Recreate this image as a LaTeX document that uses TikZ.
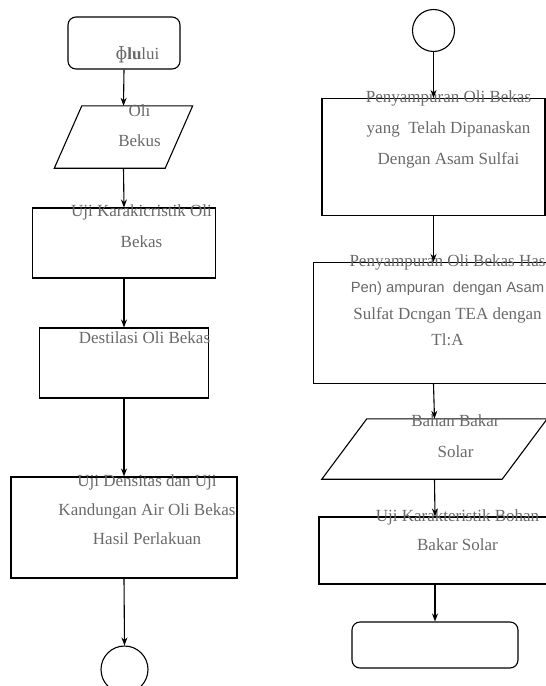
\documentclass[tikz,border=0pt]{standalone}
\usepackage{fontspec}
\setmainfont{Liberation Serif}
\setsansfont{Liberation Sans}
\newfontfamily\ipafont{DejaVu Serif}
\usetikzlibrary{arrows.meta}
\definecolor{abu}{RGB}{105,105,105}

\begin{document}
\begin{tikzpicture}[x=1bp, y=-1bp]
  %tikz%
  % Diagram alir, oli bekas
  %tikz%
    \tikzset{garis/.style={draw, line width=1.1bp, inner sep=0pt},
      jajar/.style={inner sep=0pt},
      teks/.style={text=abu, align=center, anchor=base, inner sep=0pt},
      panah/.style={-{Stealth[length=8bp, width=6bp]}, line width=1.1bp}}

    \useasboundingbox (0,0) rectangle (546,686);

    % kolom kiri
    \node[garis, rounded corners=8bp, minimum width=112bp, minimum height=52bp] (mulai) at (124,43) {};
    \node[jajar, minimum width=110.5bp, minimum height=62bp] (oli) at (123.5,137) {};
    \draw[line width=1.1bp] ([xshift=13.75bp]oli.north west) -- ([xshift=13.75bp]oli.north east)
      -- ([xshift=-13.75bp]oli.south east) -- ([xshift=-13.75bp]oli.south west) -- cycle;
    \node[garis, minimum width=183bp, minimum height=70bp] (karak) at (124,243) {};
    \node[garis, minimum width=169bp, minimum height=70bp] (destil) at (124,363) {};
    \node[garis, minimum width=226bp, minimum height=101bp] (densitas) at (124,527.5) {};
    \node[garis, circle, minimum size=47bp] (sambung1) at (124.5,669.5) {};

    \node[teks, font=\fontsize{17bp}{29bp}\selectfont] (tmulai) at (137.5,60) {{\ipafont ɸ}{\bfseries lu}lui};
    \node[teks, font=\fontsize{17bp}{29bp}\selectfont] (toli) at (139.5,146) {Oli\\Bekus};
    \node[teks, font=\fontsize{17bp}{31bp}\selectfont] (tkarak) at (141.5,247) {Uji Karakicristik Oli\\Bekas};
    \node[teks, font=\fontsize{17bp}{29bp}\selectfont] (tdestil) at (144.5,343) {Destilasi Oli Bekas};
    \node[teks, font=\fontsize{17bp}{29bp}\selectfont] (tdensitas) at (147,544) {Uji Densitas dan Uji\\Kandungan Air Oli Bekas\\Hasil Perlakuan};

    \draw[panah] (mulai.south) -- (oli.north);
    \draw[panah] (oli.south) -- (karak.north);
    \draw[panah] (karak.south) -- (destil.north);
    \draw[panah] (destil.south) -- (densitas.north);
    \draw[panah] (densitas.south) -- (sambung1.north);

    % kolom kanan
    \node[garis, circle, minimum size=42bp] (sambung2) at (433.5,30.5) {};
    \node[garis, minimum width=223bp, minimum height=117bp] (campur1) at (433.5,157) {};
    \node[garis, minimum width=240bp, minimum height=121bp] (campur2) at (433.5,323) {};
    \node[jajar, minimum width=180bp, minimum height=60bp] (solar) at (434.5,449) {};
    \draw[line width=1.1bp] ([xshift=22.5bp]solar.north west) -- ([xshift=22.5bp]solar.north east)
      -- ([xshift=-22.5bp]solar.south east) -- ([xshift=-22.5bp]solar.south west) -- cycle;
    \node[garis, minimum width=232bp, minimum height=67bp] (ujisolar) at (435,550.5) {};
    \node[garis, rounded corners=8bp, minimum width=166bp, minimum height=46bp] (selesai) at (435,645) {};

    \node[teks, font=\fontsize{17bp}{30.5bp}\selectfont] (tcampur1) at (448.5,164) {Penyampuran Oli Bekas\\yang\ \ Telah Dipanaskan\\Dengan Asam Sulfai};
    \node[teks, font=\fontsize{17bp}{26.5bp}\selectfont] (tcampur2) at (447.5,345.5) {Penyampuran Oli Bekas Has\\{\sffamily\fontsize{14.8bp}{26.5bp}\selectfont Pen) ampuran\ \ dengan Asam}\\Sulfat Dcngan TEA dengan\\Tl:A};
    \node[teks, font=\fontsize{17bp}{31bp}\selectfont] (tsolar) at (455.5,457) {Bahan Bakar\\Solar};
    \node[teks, font=\fontsize{17bp}{29bp}\selectfont] (tujisolar) at (457.5,550.5) {Uji Karakteristik Bohan\\Bakar Solar};

    \draw[panah] (sambung2.south) -- (campur1.north);
    \draw[panah] (campur1.south) -- (campur2.north);
    \draw[panah] (campur2.south) -- (solar.north);
    \draw[panah] (solar.south) -- (ujisolar.north);
    \draw[panah] (ujisolar.south) -- (selesai.north);

\end{tikzpicture}
\end{document}
